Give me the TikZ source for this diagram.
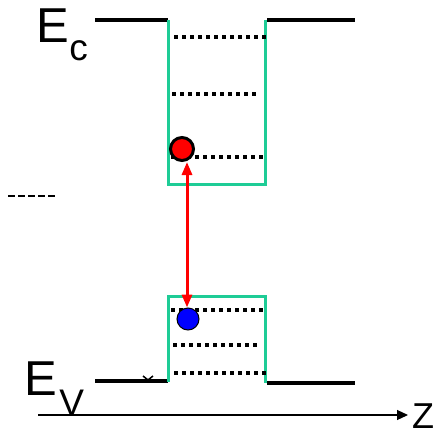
\documentclass[tikz,border=0pt]{standalone}
\usepackage{fontspec}
\setmainfont{Liberation Sans}
\usetikzlibrary{arrows.meta, positioning, calc}
\definecolor{wellc}{RGB}{30,204,150}
\tikzset{
  band/.style={line width=3.5pt},
  wall/.style={draw=wellc, line width=3pt},
  lvl/.style={line width=3.5pt, dash pattern=on 3.5pt off 4.5pt},
  elec/.style={circle, draw, fill=red, line width=3pt, minimum size=23pt, inner sep=0pt},
  hole/.style={circle, draw, fill=blue, line width=1pt, minimum size=22pt, inner sep=0pt},
  trans/.style={<->, >={Triangle[length=13pt, width=10pt]}, red, line width=3pt},
  lab/.style={font=\fontsize{49}{50}\selectfont, inner sep=0pt, anchor=base west},
  sub/.style={font=\fontsize{37}{38}\selectfont, inner sep=0pt, anchor=base west}
}
\begin{document}
\begin{tikzpicture}[x=1pt, y=-1pt]
		\useasboundingbox (0,0) rectangle (441,436);
		% conduction band with well
		\draw[band] (95,20) -- (168,20);
		\draw[band] (267,20) -- (355,20);
		\draw[wall] (168,20) -- (168,184) -- (265,184) -- (265,20);
		\draw[lvl] (174,37) -- (266,37);
		\draw[lvl] (172,94) -- (260,94);
		\draw[lvl] (171,157) -- (265,157);
		% valence band with well
		\draw[band] (95,381) -- (168,381);
		\draw[band] (267,383) -- (355,383);
		\draw[wall] (168,382) -- (168,296) -- (265,296) -- (265,383);
		\draw[lvl] (171,310) -- (265,310);
		\draw[lvl] (173,345) -- (260,345);
		\draw[lvl] (174,373) -- (266,373);
		\draw[line width=1.5pt] (143,376) -- (148,380) -- (153,376);
		\draw[line width=2pt, dash pattern=on 7pt off 3pt] (8,196) -- (58,196);
		% carriers
		\node[elec] (e) at (182,149) {};
		\node[hole] (h) at (188,319) {};
		\draw[trans] ($(e.south)+(5,0)$) -- ($(h.north)+(-1,0)$);
		% labels
		\node[lab] (ec) at (36,42) {E};
		\node[sub] at (ec.base east) [xshift=0pt, yshift=-18pt] {c};
		\node[lab] (ev) at (24,395) {E};
		\node[sub] at (ev.base east) [xshift=2pt, yshift=-20pt] {V};
		% axis
		\coordinate (z0) at (38,415);
		\coordinate (z1) at (408,415);
		\draw[line width=1.2pt, -{Triangle[length=11pt, width=10pt]}] (z0) -- (z1);
		\node[lab, font=\fontsize{36}{37}\selectfont] (z) at (412,428) {Z};
	\end{tikzpicture}
\end{document}
